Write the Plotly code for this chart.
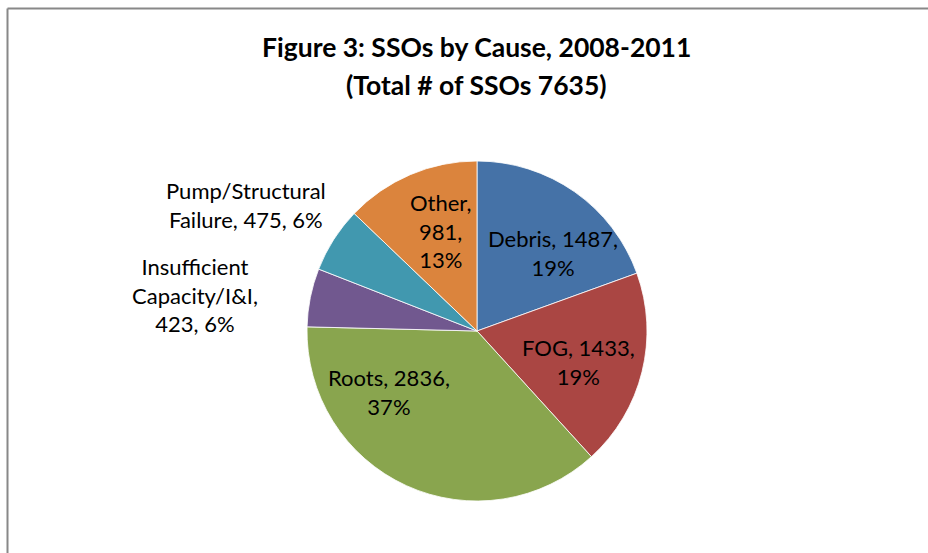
import math
import plotly.graph_objects as go

# ---- data ----
causes = ["Debris", "FOG", "Roots", "Insufficient Capacity/I&I", "Pump/Structural Failure", "Other"]
counts = [1487, 1433, 2836, 423, 475, 981]
label_lines = [
    ["Debris, 1487,", "19%"],
    ["FOG, 1433,", "19%"],
    ["Roots, 2836,", "37%"],
    ["Insufficient", "Capacity/I&I,", "423, 6%"],
    ["Pump/Structural", "Failure, 475, 6%"],
    ["Other,", "981,", "13%"],
]
title_lines = ["Figure 3: SSOs by Cause, 2008-2011", "(Total # of SSOs 7635)"]

# ---- style ----
colors = ["#4572A7", "#AA4643", "#89A54E", "#71588F", "#4198AF", "#DB843D"]
W, H = 928, 553
cx, cy, R = 477, 331, 170          # pie centre / radius in px
label_r = [109, 106, 107, 284, 263, 106]      # label distance from centre (px)
label_dang = [9, 3, 31, -4, -4, 3]            # nudge from slice mid-angle (deg)
title_y = [47, 85]
FONT = "Lato, Carlito, Calibri, sans-serif"

fig = go.Figure(go.Pie(
    labels=causes, values=counts, sort=False, direction="clockwise", rotation=0,
    marker=dict(colors=colors, line=dict(color="#ffffff", width=0.8)),
    textinfo="none", hoverinfo="label+value+percent", showlegend=False,
    domain=dict(x=[(cx - R) / W, (cx + R) / W], y=[(H - cy - R) / H, (H - cy + R) / H]),
))

total = sum(counts)
cum = 0
for i, v in enumerate(counts):
    mid = (cum + v / 2) / total * 360 + label_dang[i]
    cum += v
    a = math.radians(mid)
    px = cx + label_r[i] * math.sin(a)
    py = cy - label_r[i] * math.cos(a)
    fig.add_annotation(
        x=px / W, y=1 - py / H, xref="paper", yref="paper",
        text="<br>".join(label_lines[i]), showarrow=False, align="center",
        xanchor="center", yanchor="middle",
        font=dict(family=FONT, size=22, color="#000000"),
    )

for t, ty in zip(title_lines, title_y):
    fig.add_annotation(
        x=476 / W, y=1 - ty / H, xref="paper", yref="paper", text="<b>" + t + "</b>",
        showarrow=False, xanchor="center", yanchor="middle",
        font=dict(family=FONT, size=26.5, color="#000000"),
    )

fig.update_layout(
    width=W, height=H, margin=dict(l=0, r=0, t=0, b=0),
    paper_bgcolor="#ffffff", plot_bgcolor="#ffffff",
    shapes=[
        dict(type="line", xref="paper", yref="paper", x0=7.5 / W, x1=1, y0=1 - 8.5 / H, y1=1 - 8.5 / H,
             line=dict(color="#888888", width=2)),
        dict(type="line", xref="paper", yref="paper", x0=7.5 / W, x1=7.5 / W, y0=0, y1=1 - 8.5 / H,
             line=dict(color="#888888", width=2)),
    ],
)

fig.write_html("out.html", config={"displayModeBar": False},
               post_script="document.body.style.margin='0';")
